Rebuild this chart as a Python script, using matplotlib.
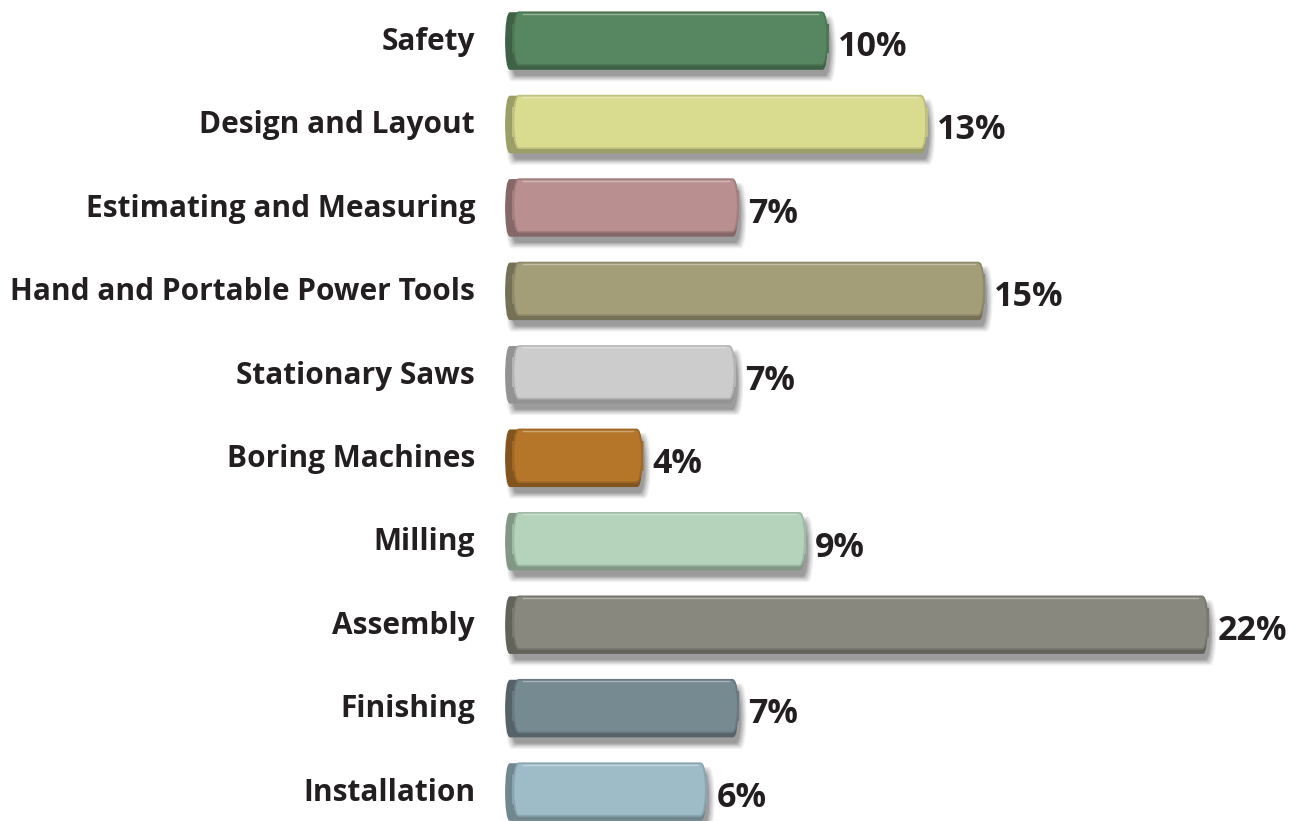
import matplotlib
matplotlib.use("Agg")
import matplotlib.pyplot as plt
from matplotlib.patches import FancyBboxPatch
import matplotlib.colors as mcolors

categories = ["Safety", "Design and Layout", "Estimating and Measuring",
              "Hand and Portable Power Tools", "Stationary Saws", "Boring Machines",
              "Milling", "Assembly", "Finishing", "Installation"]
values = [10.1, 13.2, 7.3, 15.0, 7.2, 4.3, 9.4, 22.0, 7.3, 6.3]
labels = ["10%", "13%", "7%", "15%", "7%", "4%", "9%", "22%", "7%", "6%"]
colors = ["#578760", "#d9db8f", "#b98f8f", "#a39d78", "#cccccc",
          "#b5762a", "#b5d3bb", "#88887e", "#768a92", "#9dbcc8"]

W, H = 1305, 821
fig = plt.figure(figsize=(W / 100, H / 100), dpi=100)
ax = fig.add_axes([0, 0, 1, 1])
pxx = 31.95  # px per percent
pxy = 83.4   # px per category
x0 = 505
ax.set_xlim(-x0 / pxx, (W - x0) / pxx)
ax.set_ylim(9 + (H - 792) / pxy, -41 / pxy)
ax.axis("off")

aspect = pxx / pxy
bh = 0.69
side = 8 / pxx

def darker(c, f):
    r, g, b = mcolors.to_rgb(c)
    return (r * f, g * f, b * f)

for i, (cat, v, lab, c) in enumerate(zip(categories, values, labels, colors)):
    # shadow
    for k, a in enumerate([0.07, 0.09, 0.11, 0.14, 0.18]):
        grow = (5 - k) * 1.3
        ax.add_patch(FancyBboxPatch(
            (0 + 7 / pxx - grow / pxx, i - bh / 2 + 10 / pxy - grow / pxy),
            v + grow * 2 / pxx - 5 / pxx, bh + grow * 2 / pxy - 5 / pxy,
            boxstyle="round,pad=0,rounding_size=%f" % (6 / pxx),
            mutation_aspect=1 / aspect, fc="#303030", ec="none", alpha=a, zorder=1))
    # dark side edge
    ax.add_patch(FancyBboxPatch(
        (0, i - bh / 2), v, bh,
        boxstyle="round,pad=0,rounding_size=%f" % (5 / pxx),
        mutation_aspect=1 / aspect, fc=darker(c, 0.72), ec="none", zorder=2))
    # main face
    ax.add_patch(FancyBboxPatch(
        (side, i - bh / 2), v - side, bh - 5 / pxy,
        boxstyle="round,pad=0,rounding_size=%f" % (6 / pxx),
        mutation_aspect=1 / aspect, fc=c, ec=darker(c, 0.88), lw=1.2, zorder=3))
    # highlight line at top
    ax.plot([side + 0.3, v - 0.3], [i - bh / 2 + 1.5 / pxy] * 2,
            color="white", alpha=0.35, lw=1.0, zorder=4)
    ax.text(-30 / pxx, i + 0.01, cat, ha="right", va="center",
            fontsize=21.5, fontweight="bold", family="Open Sans", color="#231f20")
    ax.text(v + 10 / pxx, i + 0.07, lab, ha="left", va="center",
            fontsize=24.5, fontweight="bold", family="Open Sans", color="#231f20")

fig.savefig("out.png", dpi=100)
